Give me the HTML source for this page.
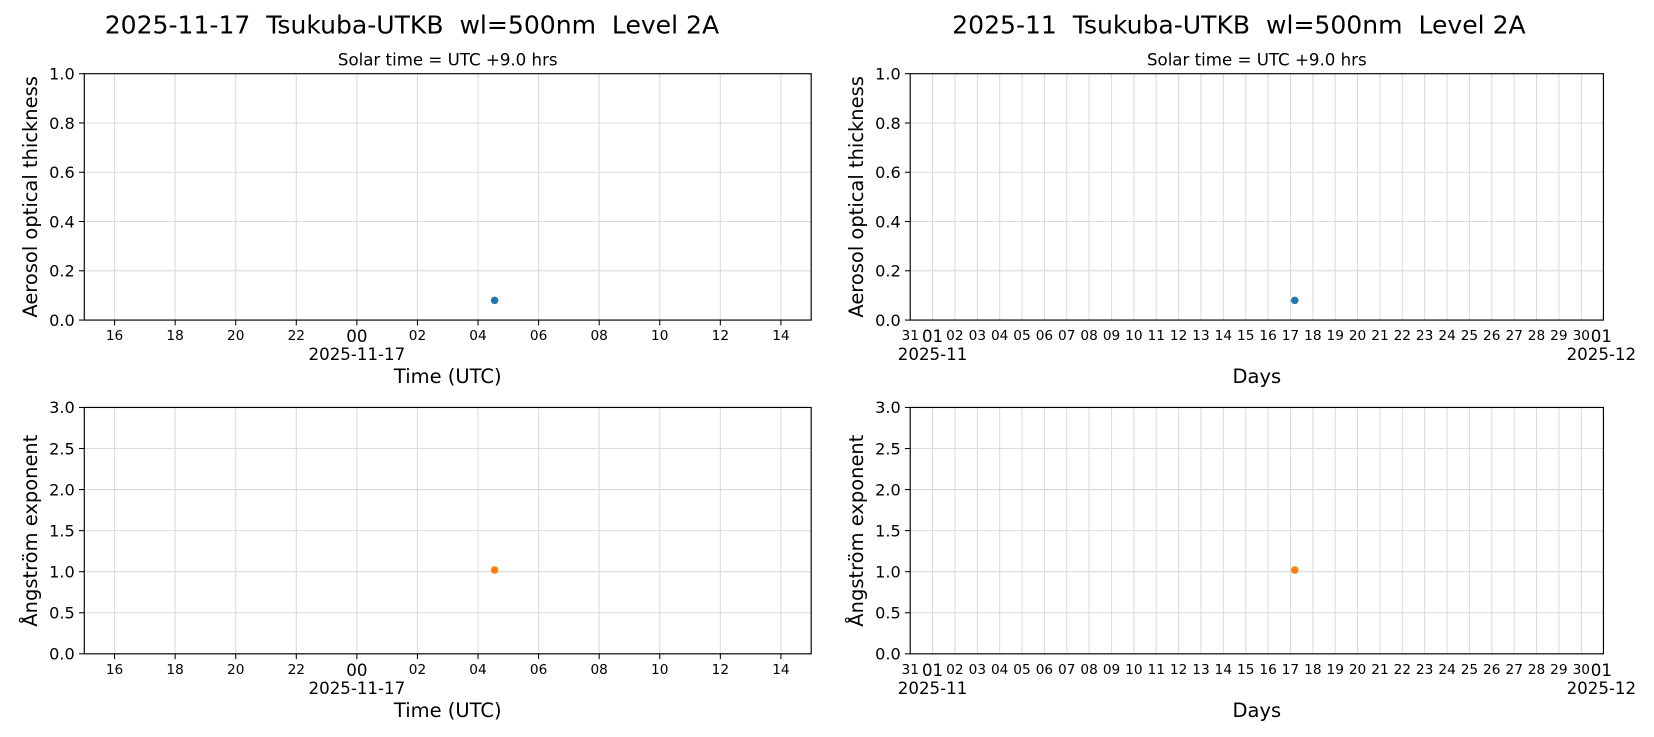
<!DOCTYPE html>
<html><head><meta charset="utf-8"><style>
html,body{margin:0;padding:0;background:#fff}
svg{display:block;font-family:"DejaVu Sans","Liberation Sans",sans-serif}
text{white-space:pre}
.g{stroke:#dcdcdc;stroke-width:1}
.ax{fill:none;stroke:#000;stroke-width:1.1}
.tk{stroke:#000;stroke-width:1}
.yt{font-size:15.3px;text-anchor:end}
.xt{font-size:13px;text-anchor:middle}
.xb{font-size:15.8px;text-anchor:middle}
.lab{font-size:18.5px;text-anchor:middle}
</style></head><body>
<svg width="1654" height="737" viewBox="0 0 1570 700" preserveAspectRatio="none">
<text x="391" y="32" font-size="23.8" text-anchor="middle">2025-11-17  Tsukuba-UTKB  wl=500nm  Level 2A</text>
<text x="1176" y="32" font-size="23.8" text-anchor="middle">2025-11  Tsukuba-UTKB  wl=500nm  Level 2A</text>
<text x="425" y="62" font-size="15.8" text-anchor="middle">Solar time = UTC +9.0 hrs</text>
<text x="1193" y="62" font-size="15.8" text-anchor="middle">Solar time = UTC +9.0 hrs</text>

<g>
<g class="g">
<line x1="108.75" y1="70" x2="108.75" y2="304"/><line x1="166.25" y1="70" x2="166.25" y2="304"/><line x1="223.75" y1="70" x2="223.75" y2="304"/><line x1="281.25" y1="70" x2="281.25" y2="304"/><line x1="338.75" y1="70" x2="338.75" y2="304"/><line x1="396.25" y1="70" x2="396.25" y2="304"/><line x1="453.75" y1="70" x2="453.75" y2="304"/><line x1="511.25" y1="70" x2="511.25" y2="304"/><line x1="568.75" y1="70" x2="568.75" y2="304"/><line x1="626.25" y1="70" x2="626.25" y2="304"/><line x1="683.75" y1="70" x2="683.75" y2="304"/><line x1="741.25" y1="70" x2="741.25" y2="304"/>
<line x1="80" y1="257.2" x2="770" y2="257.2"/><line x1="80" y1="210.4" x2="770" y2="210.4"/><line x1="80" y1="163.6" x2="770" y2="163.6"/><line x1="80" y1="116.8" x2="770" y2="116.8"/>
</g>
<rect class="ax" x="80" y="70" width="690" height="234"/>
<g class="tk">
<line x1="75" y1="304" x2="80" y2="304"/><line x1="75" y1="257.2" x2="80" y2="257.2"/><line x1="75" y1="210.4" x2="80" y2="210.4"/><line x1="75" y1="163.6" x2="80" y2="163.6"/><line x1="75" y1="116.8" x2="80" y2="116.8"/><line x1="75" y1="70" x2="80" y2="70"/>
<line x1="108.75" y1="304" x2="108.75" y2="309"/><line x1="166.25" y1="304" x2="166.25" y2="309"/><line x1="223.75" y1="304" x2="223.75" y2="309"/><line x1="281.25" y1="304" x2="281.25" y2="309"/><line x1="338.75" y1="304" x2="338.75" y2="309"/><line x1="396.25" y1="304" x2="396.25" y2="309"/><line x1="453.75" y1="304" x2="453.75" y2="309"/><line x1="511.25" y1="304" x2="511.25" y2="309"/><line x1="568.75" y1="304" x2="568.75" y2="309"/><line x1="626.25" y1="304" x2="626.25" y2="309"/><line x1="683.75" y1="304" x2="683.75" y2="309"/><line x1="741.25" y1="304" x2="741.25" y2="309"/>
</g>
<g class="yt"><text x="71" y="309.5">0.0</text><text x="71" y="262.5">0.2</text><text x="71" y="216">0.4</text><text x="71" y="169">0.6</text><text x="71" y="122.5">0.8</text><text x="71" y="75.5">1.0</text></g>
<g class="xt"><text x="108.75" y="323">16</text><text x="166.25" y="323">18</text><text x="223.75" y="323">20</text><text x="281.25" y="323">22</text><text x="396.25" y="323">02</text><text x="453.75" y="323">04</text><text x="511.25" y="323">06</text><text x="568.75" y="323">08</text><text x="626.25" y="323">10</text><text x="683.75" y="323">12</text><text x="741.25" y="323">14</text></g>
<text class="xb" x="338.75" y="325">00</text>
<text class="xb" x="338.75" y="342">2025-11-17</text>
<text class="lab" x="425" y="364">Time (UTC)</text>
<text class="lab" transform="translate(35,187) rotate(-90)">Aerosol optical thickness</text>
<circle cx="469.5" cy="285.3" r="3.6" fill="#1f77b4"/>
</g>

<g transform="translate(0,317)">
<g class="g">
<line x1="108.75" y1="70" x2="108.75" y2="304"/><line x1="166.25" y1="70" x2="166.25" y2="304"/><line x1="223.75" y1="70" x2="223.75" y2="304"/><line x1="281.25" y1="70" x2="281.25" y2="304"/><line x1="338.75" y1="70" x2="338.75" y2="304"/><line x1="396.25" y1="70" x2="396.25" y2="304"/><line x1="453.75" y1="70" x2="453.75" y2="304"/><line x1="511.25" y1="70" x2="511.25" y2="304"/><line x1="568.75" y1="70" x2="568.75" y2="304"/><line x1="626.25" y1="70" x2="626.25" y2="304"/><line x1="683.75" y1="70" x2="683.75" y2="304"/><line x1="741.25" y1="70" x2="741.25" y2="304"/>
<line x1="80" y1="265" x2="770" y2="265"/><line x1="80" y1="226" x2="770" y2="226"/><line x1="80" y1="187" x2="770" y2="187"/><line x1="80" y1="148" x2="770" y2="148"/><line x1="80" y1="109" x2="770" y2="109"/>
</g>
<rect class="ax" x="80" y="70" width="690" height="234"/>
<g class="tk">
<line x1="75" y1="304" x2="80" y2="304"/><line x1="75" y1="265" x2="80" y2="265"/><line x1="75" y1="226" x2="80" y2="226"/><line x1="75" y1="187" x2="80" y2="187"/><line x1="75" y1="148" x2="80" y2="148"/><line x1="75" y1="109" x2="80" y2="109"/><line x1="75" y1="70" x2="80" y2="70"/>
<line x1="108.75" y1="304" x2="108.75" y2="309"/><line x1="166.25" y1="304" x2="166.25" y2="309"/><line x1="223.75" y1="304" x2="223.75" y2="309"/><line x1="281.25" y1="304" x2="281.25" y2="309"/><line x1="338.75" y1="304" x2="338.75" y2="309"/><line x1="396.25" y1="304" x2="396.25" y2="309"/><line x1="453.75" y1="304" x2="453.75" y2="309"/><line x1="511.25" y1="304" x2="511.25" y2="309"/><line x1="568.75" y1="304" x2="568.75" y2="309"/><line x1="626.25" y1="304" x2="626.25" y2="309"/><line x1="683.75" y1="304" x2="683.75" y2="309"/><line x1="741.25" y1="304" x2="741.25" y2="309"/>
</g>
<g class="yt"><text x="71" y="309.5">0.0</text><text x="71" y="270.5">0.5</text><text x="71" y="231.5">1.0</text><text x="71" y="192.5">1.5</text><text x="71" y="153.5">2.0</text><text x="71" y="114.5">2.5</text><text x="71" y="75.5">3.0</text></g>
<g class="xt"><text x="108.75" y="323">16</text><text x="166.25" y="323">18</text><text x="223.75" y="323">20</text><text x="281.25" y="323">22</text><text x="396.25" y="323">02</text><text x="453.75" y="323">04</text><text x="511.25" y="323">06</text><text x="568.75" y="323">08</text><text x="626.25" y="323">10</text><text x="683.75" y="323">12</text><text x="741.25" y="323">14</text></g>
<text class="xb" x="338.75" y="325">00</text>
<text class="xb" x="338.75" y="342">2025-11-17</text>
<text class="lab" x="425" y="364">Time (UTC)</text>
<text class="lab" transform="translate(35,187) rotate(-90)">Ångström exponent</text>
<circle cx="469.5" cy="224.4" r="3.6" fill="#ff7f0e"/>
</g>

<g>
<g class="g">
<line x1="885.2" y1="70" x2="885.2" y2="304"/><line x1="906.4" y1="70" x2="906.4" y2="304"/><line x1="927.7" y1="70" x2="927.7" y2="304"/><line x1="948.9" y1="70" x2="948.9" y2="304"/><line x1="970.1" y1="70" x2="970.1" y2="304"/><line x1="991.4" y1="70" x2="991.4" y2="304"/><line x1="1012.6" y1="70" x2="1012.6" y2="304"/><line x1="1033.8" y1="70" x2="1033.8" y2="304"/><line x1="1055.1" y1="70" x2="1055.1" y2="304"/><line x1="1076.3" y1="70" x2="1076.3" y2="304"/><line x1="1097.5" y1="70" x2="1097.5" y2="304"/><line x1="1118.8" y1="70" x2="1118.8" y2="304"/><line x1="1140" y1="70" x2="1140" y2="304"/><line x1="1161.2" y1="70" x2="1161.2" y2="304"/><line x1="1182.5" y1="70" x2="1182.5" y2="304"/><line x1="1203.7" y1="70" x2="1203.7" y2="304"/><line x1="1224.9" y1="70" x2="1224.9" y2="304"/><line x1="1246.2" y1="70" x2="1246.2" y2="304"/><line x1="1267.4" y1="70" x2="1267.4" y2="304"/><line x1="1288.6" y1="70" x2="1288.6" y2="304"/><line x1="1309.9" y1="70" x2="1309.9" y2="304"/><line x1="1331.1" y1="70" x2="1331.1" y2="304"/><line x1="1352.3" y1="70" x2="1352.3" y2="304"/><line x1="1373.6" y1="70" x2="1373.6" y2="304"/><line x1="1394.8" y1="70" x2="1394.8" y2="304"/><line x1="1416" y1="70" x2="1416" y2="304"/><line x1="1437.3" y1="70" x2="1437.3" y2="304"/><line x1="1458.5" y1="70" x2="1458.5" y2="304"/><line x1="1479.7" y1="70" x2="1479.7" y2="304"/><line x1="1501" y1="70" x2="1501" y2="304"/>
<line x1="864" y1="257.2" x2="1522" y2="257.2"/><line x1="864" y1="210.4" x2="1522" y2="210.4"/><line x1="864" y1="163.6" x2="1522" y2="163.6"/><line x1="864" y1="116.8" x2="1522" y2="116.8"/>
</g>
<rect class="ax" x="864" y="70" width="658" height="234"/>
<g class="tk">
<line x1="859" y1="304" x2="864" y2="304"/><line x1="859" y1="257.2" x2="864" y2="257.2"/><line x1="859" y1="210.4" x2="864" y2="210.4"/><line x1="859" y1="163.6" x2="864" y2="163.6"/><line x1="859" y1="116.8" x2="864" y2="116.8"/><line x1="859" y1="70" x2="864" y2="70"/>
</g>
<g class="yt"><text x="855" y="309.5">0.0</text><text x="855" y="262.5">0.2</text><text x="855" y="216">0.4</text><text x="855" y="169">0.6</text><text x="855" y="122.5">0.8</text><text x="855" y="75.5">1.0</text></g>
<g class="xt"><text x="864" y="323">31</text><text x="906.4" y="323">02</text><text x="927.7" y="323">03</text><text x="948.9" y="323">04</text><text x="970.1" y="323">05</text><text x="991.4" y="323">06</text><text x="1012.6" y="323">07</text><text x="1033.8" y="323">08</text><text x="1055.1" y="323">09</text><text x="1076.3" y="323">10</text><text x="1097.5" y="323">11</text><text x="1118.8" y="323">12</text><text x="1140" y="323">13</text><text x="1161.2" y="323">14</text><text x="1182.5" y="323">15</text><text x="1203.7" y="323">16</text><text x="1224.9" y="323">17</text><text x="1246.2" y="323">18</text><text x="1267.4" y="323">19</text><text x="1288.6" y="323">20</text><text x="1309.9" y="323">21</text><text x="1331.1" y="323">22</text><text x="1352.3" y="323">23</text><text x="1373.6" y="323">24</text><text x="1394.8" y="323">25</text><text x="1416" y="323">26</text><text x="1437.3" y="323">27</text><text x="1458.5" y="323">28</text><text x="1479.7" y="323">29</text><text x="1501" y="323">30</text></g>
<text class="xb" x="885.2" y="325">01</text><text class="xb" x="885.2" y="342">2025-11</text>
<text class="xb" x="1520" y="325">01</text><text class="xb" x="1520" y="342">2025-12</text>
<text class="lab" x="1193" y="364">Days</text>
<text class="lab" transform="translate(819,187) rotate(-90)">Aerosol optical thickness</text>
<circle cx="1229" cy="285.3" r="3.6" fill="#1f77b4"/>
</g>

<g transform="translate(0,317)">
<g class="g">
<line x1="885.2" y1="70" x2="885.2" y2="304"/><line x1="906.4" y1="70" x2="906.4" y2="304"/><line x1="927.7" y1="70" x2="927.7" y2="304"/><line x1="948.9" y1="70" x2="948.9" y2="304"/><line x1="970.1" y1="70" x2="970.1" y2="304"/><line x1="991.4" y1="70" x2="991.4" y2="304"/><line x1="1012.6" y1="70" x2="1012.6" y2="304"/><line x1="1033.8" y1="70" x2="1033.8" y2="304"/><line x1="1055.1" y1="70" x2="1055.1" y2="304"/><line x1="1076.3" y1="70" x2="1076.3" y2="304"/><line x1="1097.5" y1="70" x2="1097.5" y2="304"/><line x1="1118.8" y1="70" x2="1118.8" y2="304"/><line x1="1140" y1="70" x2="1140" y2="304"/><line x1="1161.2" y1="70" x2="1161.2" y2="304"/><line x1="1182.5" y1="70" x2="1182.5" y2="304"/><line x1="1203.7" y1="70" x2="1203.7" y2="304"/><line x1="1224.9" y1="70" x2="1224.9" y2="304"/><line x1="1246.2" y1="70" x2="1246.2" y2="304"/><line x1="1267.4" y1="70" x2="1267.4" y2="304"/><line x1="1288.6" y1="70" x2="1288.6" y2="304"/><line x1="1309.9" y1="70" x2="1309.9" y2="304"/><line x1="1331.1" y1="70" x2="1331.1" y2="304"/><line x1="1352.3" y1="70" x2="1352.3" y2="304"/><line x1="1373.6" y1="70" x2="1373.6" y2="304"/><line x1="1394.8" y1="70" x2="1394.8" y2="304"/><line x1="1416" y1="70" x2="1416" y2="304"/><line x1="1437.3" y1="70" x2="1437.3" y2="304"/><line x1="1458.5" y1="70" x2="1458.5" y2="304"/><line x1="1479.7" y1="70" x2="1479.7" y2="304"/><line x1="1501" y1="70" x2="1501" y2="304"/>
<line x1="864" y1="265" x2="1522" y2="265"/><line x1="864" y1="226" x2="1522" y2="226"/><line x1="864" y1="187" x2="1522" y2="187"/><line x1="864" y1="148" x2="1522" y2="148"/><line x1="864" y1="109" x2="1522" y2="109"/>
</g>
<rect class="ax" x="864" y="70" width="658" height="234"/>
<g class="tk">
<line x1="859" y1="304" x2="864" y2="304"/><line x1="859" y1="265" x2="864" y2="265"/><line x1="859" y1="226" x2="864" y2="226"/><line x1="859" y1="187" x2="864" y2="187"/><line x1="859" y1="148" x2="864" y2="148"/><line x1="859" y1="109" x2="864" y2="109"/><line x1="859" y1="70" x2="864" y2="70"/>
</g>
<g class="yt"><text x="855" y="309.5">0.0</text><text x="855" y="270.5">0.5</text><text x="855" y="231.5">1.0</text><text x="855" y="192.5">1.5</text><text x="855" y="153.5">2.0</text><text x="855" y="114.5">2.5</text><text x="855" y="75.5">3.0</text></g>
<g class="xt"><text x="864" y="323">31</text><text x="906.4" y="323">02</text><text x="927.7" y="323">03</text><text x="948.9" y="323">04</text><text x="970.1" y="323">05</text><text x="991.4" y="323">06</text><text x="1012.6" y="323">07</text><text x="1033.8" y="323">08</text><text x="1055.1" y="323">09</text><text x="1076.3" y="323">10</text><text x="1097.5" y="323">11</text><text x="1118.8" y="323">12</text><text x="1140" y="323">13</text><text x="1161.2" y="323">14</text><text x="1182.5" y="323">15</text><text x="1203.7" y="323">16</text><text x="1224.9" y="323">17</text><text x="1246.2" y="323">18</text><text x="1267.4" y="323">19</text><text x="1288.6" y="323">20</text><text x="1309.9" y="323">21</text><text x="1331.1" y="323">22</text><text x="1352.3" y="323">23</text><text x="1373.6" y="323">24</text><text x="1394.8" y="323">25</text><text x="1416" y="323">26</text><text x="1437.3" y="323">27</text><text x="1458.5" y="323">28</text><text x="1479.7" y="323">29</text><text x="1501" y="323">30</text></g>
<text class="xb" x="885.2" y="325">01</text><text class="xb" x="885.2" y="342">2025-11</text>
<text class="xb" x="1520" y="325">01</text><text class="xb" x="1520" y="342">2025-12</text>
<text class="lab" x="1193" y="364">Days</text>
<text class="lab" transform="translate(819,187) rotate(-90)">Ångström exponent</text>
<circle cx="1229" cy="224.4" r="3.6" fill="#ff7f0e"/>
</g>
</svg>
</body></html>
